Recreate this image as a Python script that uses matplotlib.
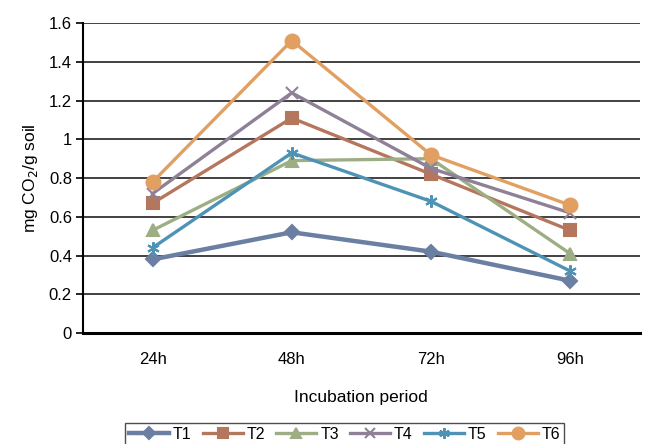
import matplotlib
matplotlib.use("Agg")
import matplotlib.pyplot as plt

plt.rcParams['font.family'] = ['Liberation Sans', 'DejaVu Sans']

periods = ["24h", "48h", "72h", "96h"]
T1 = [0.38, 0.52, 0.42, 0.27]
T2 = [0.67, 1.11, 0.82, 0.53]
T3 = [0.53, 0.89, 0.90, 0.41]
T4 = [0.72, 1.24, 0.85, 0.62]
T5 = [0.44, 0.93, 0.68, 0.32]
T6 = [0.78, 1.51, 0.92, 0.66]

series = [
    ("T1", T1, "#6a7fa2", "D", 3.2, 7),
    ("T2", T2, "#b5765e", "s", 2.4, 8),
    ("T3", T3, "#9dae84", "^", 2.4, 9),
    ("T4", T4, "#8e8097", "x", 2.4, 9),
    ("T5", T5, "#4e93b6", (6, 2, 0), 2.4, 9),
    ("T6", T6, "#e1a062", "o", 2.4, 10),
]

fig = plt.figure(figsize=(6.45, 4.44), dpi=100)
ax = fig.add_axes([0.1287, 0.25, 0.863, 0.698])

xs = [i + 0.5 for i in range(len(periods))]
for name, vals, col, mk, lw, ms in series:
    ax.plot(xs, vals, color=col, lw=lw, marker=mk, ms=ms, mew=1.5, label=name)

ax.set_xlim(0, 4)
ax.set_ylim(0, 1.6)
ax.set_yticks([0, 0.2, 0.4, 0.6, 0.8, 1.0, 1.2, 1.4, 1.6])
ax.set_yticklabels(["0", "0.2", "0.4", "0.6", "0.8", "1", "1.2", "1.4", "1.6"])
ax.set_xticks(xs)
ax.set_xticklabels(periods)
ax.tick_params(axis='x', length=0, pad=14, labelsize=12)
ax.tick_params(axis='y', length=5, width=1.2, labelsize=12, pad=3)
ax.yaxis.grid(True, color="#333333", lw=1.3)
ax.set_axisbelow(True)
for s in ['top', 'right']:
    ax.spines[s].set_visible(False)
ax.spines['left'].set_linewidth(1.5)
ax.spines['bottom'].set_linewidth(2.2)

ax.set_xlabel("Incubation period", fontsize=12.5, labelpad=16)
ax.set_ylabel("mg CO$_2$/g soil", fontsize=12.5, labelpad=6)

leg = ax.legend(loc="upper center", bbox_to_anchor=(0.47, -0.29), ncol=6,
                frameon=True, fancybox=False, edgecolor="#222222",
                fontsize=11.5, handlelength=2.5, columnspacing=0.7,
                handletextpad=0.25, borderpad=0.25, borderaxespad=0,
                markerscale=0.85)
leg.get_frame().set_linewidth(1.0)

fig.savefig("out.png", dpi=100)
